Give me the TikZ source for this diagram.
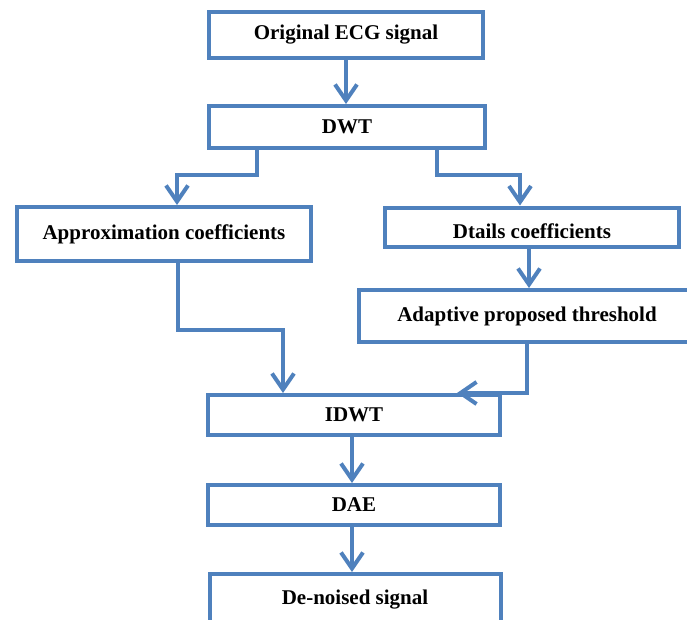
\documentclass[tikz,border=0pt]{standalone}
\usepackage{fontspec}
\setmainfont{Liberation Serif}
\usepackage{tikz}
\usetikzlibrary{arrows.meta}
\definecolor{flowblue}{HTML}{4F81BD}

\begin{document}
\begin{tikzpicture}[x=1pt, y=-1pt,
  box/.style={draw=flowblue, line width=4pt, inner sep=0pt,
    font=\fontsize{21}{25}\selectfont\bfseries},
  link/.style={draw=flowblue, line width=4pt, ->,
    >={Straight Barb[length=16pt,width=22pt]}}]
\useasboundingbox (0,0) rectangle (687,619);
\node[box, minimum width=274pt, minimum height=46pt](orig) at (346,35) {Original ECG signal};
\node[box, minimum width=276pt, minimum height=42pt](dwt) at (347,127) {DWT};
\node[box, minimum width=294pt, minimum height=54pt](approx) at (164,234) {Approximation coefficients};
\node[box, minimum width=294pt, minimum height=39pt](dtails) at (532,227) {\raisebox{-4pt}[\height][\depth]{Dtails coefficients}};
\node[box, minimum width=336pt, minimum height=52pt](adapt) at (527,316) {Adaptive proposed threshold};
\node[box, minimum width=292pt, minimum height=40pt](idwt) at (354,415) {IDWT};
\node[box, minimum width=292pt, minimum height=40pt](dae) at (354,505) {DAE};
\node[box, minimum width=291pt, minimum height=52pt](denoised) at (355,600) {De-noised signal};
%
\draw[link](orig.south) -- (orig.south |- dwt.north);
\draw[link]([xshift=-90pt]dwt.south) -- ++(0,25) -| ([xshift=13pt]approx.north);
\draw[link]([xshift=90pt]dwt.south) -- ++(0,25) -| ([xshift=-12pt]dtails.north);
\draw[link]([xshift=-3pt]dtails.south) -- ([xshift=2pt]adapt.north);
\draw[link]([xshift=14pt]approx.south) -- ++(0,67) -| ([xshift=-71pt]idwt.north);
\draw[link](adapt.south) |- ([xshift=103pt]idwt.north);
\draw[link]([xshift=-2pt]idwt.south) -- ([xshift=-2pt]dae.north);
\draw[link]([xshift=-2pt]dae.south) -- ([xshift=-3pt]denoised.north);
\end{tikzpicture}
\end{document}
